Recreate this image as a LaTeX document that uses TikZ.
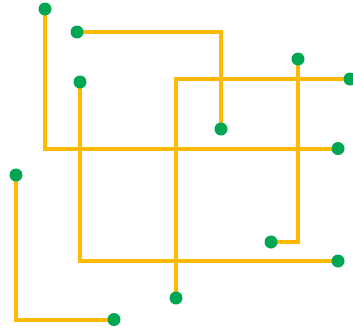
\documentclass[tikz,border=0pt]{standalone}
\usetikzlibrary{backgrounds}
\definecolor{wire}{HTML}{FFB900}
\definecolor{pin}{HTML}{00A651}
\begin{document}
\begin{tikzpicture}[x=1pt,y=-1pt,
  pinnode/.style={circle,fill=pin,draw=none,minimum size=13pt,inner sep=0pt},
  wireline/.style={draw=wire,line width=4pt,line join=miter}]
\useasboundingbox (0,0) rectangle (353,335);
\node[pinnode] (a1) at (45,9) {};
\node[pinnode] (b1) at (338,148.5) {};
\node[pinnode] (a2) at (77,32) {};
\node[pinnode] (b2) at (221,129) {};
\node[pinnode] (a3) at (80,82) {};
\node[pinnode] (b3) at (338,261) {};
\node[pinnode] (a4) at (298,59) {};
\node[pinnode] (b4) at (271,242) {};
\node[pinnode] (a5) at (350,79) {};
\node[pinnode] (b5) at (176,298) {};
\node[pinnode] (a6) at (16,175) {};
\node[pinnode] (b6) at (114,319.5) {};
\begin{scope}[on background layer]
\draw[wireline] (a1.center) |- (b1.center);
\draw[wireline] (a2.center) -| (b2.center);
\draw[wireline] (a3.center) |- (b3.center);
\draw[wireline] (a4.center) |- (b4.center);
\draw[wireline] (a5.center) -| (b5.center);
\draw[wireline] (a6.center) |- (b6.center);
\end{scope}
\end{tikzpicture}
\end{document}
